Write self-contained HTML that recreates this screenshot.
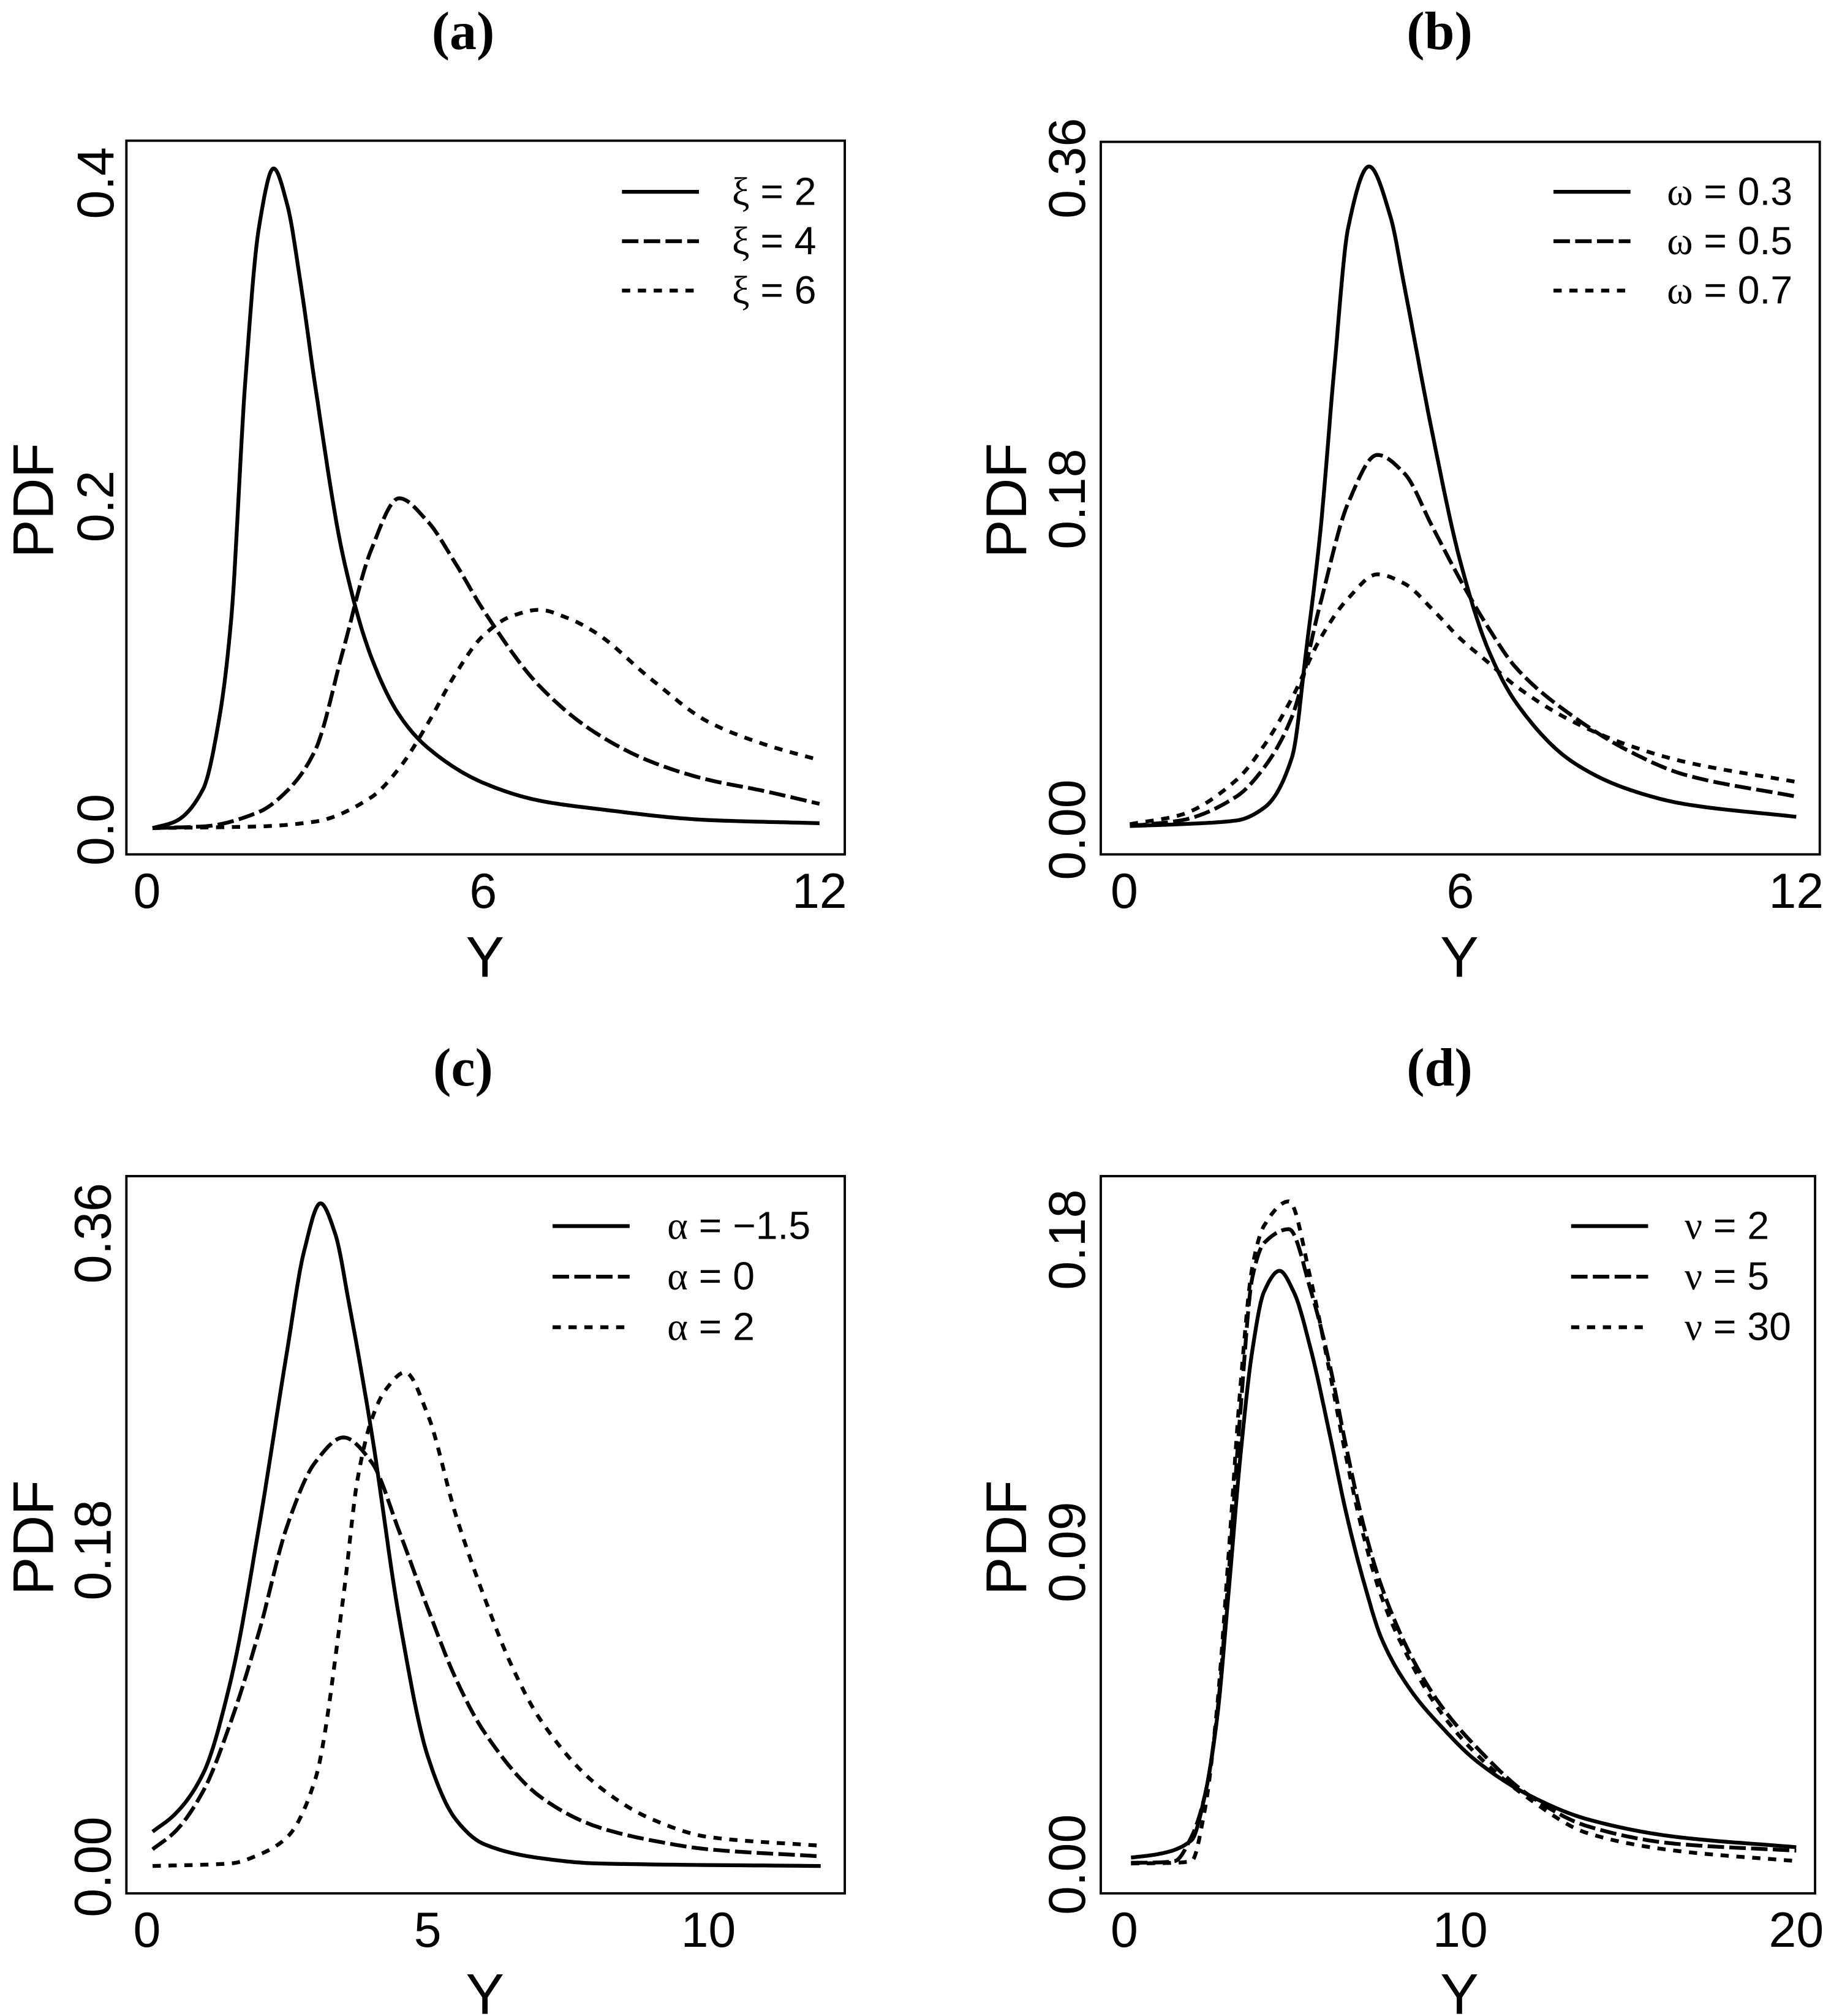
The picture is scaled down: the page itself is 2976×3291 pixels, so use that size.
<!DOCTYPE html>
<html><head><meta charset="utf-8">
<style>
html,body{margin:0;padding:0;background:#fff;}
svg{display:block;}
text{font-family:"Liberation Sans",sans-serif;fill:#000;}
.ttl{font-family:"Liberation Serif",serif;font-weight:bold;font-size:88px;}
.tick{font-size:88px;}
.xtick{font-size:84px;}
.axt{font-size:98px;}
.leg{font-size:67px;}
.grk{font-family:"Liberation Serif","DejaVu Serif",serif;}
</style></head>
<body>
<svg id="fig" width="2976" height="3291" viewBox="0 0 2976 3291" xmlns="http://www.w3.org/2000/svg">
<rect width="2976" height="3291" fill="#fff"/>
<text class="ttl" x="756" y="80" text-anchor="middle">(a)</text>
<text class="ttl" x="2350" y="80" text-anchor="middle">(b)</text>
<text class="ttl" x="756" y="1772" text-anchor="middle">(c)</text>
<text class="ttl" x="2350" y="1772" text-anchor="middle">(d)</text>
</svg>
<script>
// ---- Panel (a) data ----
const aX1=[0.1,0.5,1,1.3,1.5,1.75,2,2.26,2.5,2.75,3,3.5,4,4.5,5,6,7,8,10,12];
const aY1=[0.001,0.005,0.025,0.071,0.129,0.275,0.373,0.409,0.387,0.336,0.275,0.169,0.107,0.071,0.051,0.029,0.018,0.013,0.006,0.004];
const aX2=[0.1,1,2,2.5,3,3.5,4,4.5,5,5.5,6,7,8,9,10,11,12];
const aY2=[0.001,0.002,0.011,0.024,0.049,0.111,0.173,0.205,0.191,0.165,0.136,0.089,0.060,0.042,0.031,0.024,0.016];
const aX3=[0.1,2,3,4,4.5,5,5.5,6,6.5,7,7.5,8,9,10,11,12];
const aY3=[0.001,0.002,0.005,0.020,0.038,0.065,0.096,0.120,0.132,0.136,0.131,0.122,0.093,0.067,0.053,0.043];
const aTicksX=[0,6,12], aTicksXLab=["0","6","12"];
const aTicksY=[0,0.2,0.4], aTicksYLab=["0.0","0.2","0.4"];
// ---- Panel (b) data ----
const bX1=[0.1,1,2,2.5,3,3.25,3.5,3.75,4,4.37,4.75,5,5.5,6,6.5,7,8,9,10,12];
const bY1=[0.002,0.003,0.005,0.012,0.040,0.098,0.162,0.251,0.328,0.361,0.334,0.296,0.216,0.146,0.098,0.069,0.037,0.022,0.014,0.007];
const bX2=[0.1,1,2,2.5,3,3.5,4,4.52,5,5.5,6,6.5,7,8,9,10,12];
const bY2=[0.002,0.005,0.018,0.034,0.062,0.123,0.178,0.204,0.194,0.165,0.136,0.110,0.088,0.062,0.043,0.030,0.018];
const bX3=[0.1,1,2,2.5,3,3.5,4,4.52,5,5.5,6,6.5,7,8,9,10,12];
const bY3=[0.003,0.008,0.027,0.046,0.072,0.104,0.126,0.139,0.134,0.120,0.104,0.091,0.078,0.059,0.046,0.037,0.026];
const bTicksX=[0,6,12], bTicksXLab=["0","6","12"];
const bTicksY=[0,0.18,0.36], bTicksYLab=["0.00","0.18","0.36"];
// ---- Panel (c) data ----
const cX1=[0.1,0.5,1,1.5,2,2.5,2.8,3.09,3.35,3.6,4,4.5,5,5.5,6,7,8,12];
const cY1=[0.020,0.030,0.053,0.107,0.194,0.294,0.350,0.377,0.360,0.320,0.247,0.140,0.063,0.027,0.013,0.005,0.002,0.0005];
const cX2=[0.1,0.5,1,1.5,2,2.5,3,3.5,4,4.5,5,5.5,6,7,8,9,10,12];
const cY2=[0.010,0.020,0.043,0.083,0.134,0.194,0.230,0.244,0.230,0.190,0.147,0.107,0.077,0.040,0.023,0.015,0.010,0.006];
const cX3=[0.1,1.5,2,2.5,3,3.5,3.75,4,4.25,4.6,5,5.5,6,6.5,7,8,9,10,12];
const cY3=[0.0005,0.002,0.007,0.017,0.050,0.154,0.220,0.254,0.271,0.281,0.257,0.200,0.154,0.114,0.084,0.047,0.027,0.017,0.012];
const cTicksX=[0,5,10], cTicksXLab=["0","5","10"];
const cTicksY=[0,0.18,0.36], cTicksYLab=["0.00","0.18","0.36"];
// ---- Panel (d) data ----
const dX1=[0.2,1,2,2.4,2.76,3.11,3.46,3.81,4.16,4.62,5.04,5.56,6.09,6.61,7.14,7.66,8.54,9.41,10.46,12.04,13.8,16.4,20];
const dY1=[0.002,0.003,0.007,0.020,0.042,0.079,0.118,0.148,0.165,0.171,0.165,0.148,0.125,0.101,0.081,0.065,0.050,0.040,0.030,0.020,0.013,0.008,0.005];
const dX2=[0.2,1,1.5,2,2.4,2.76,3.11,3.46,3.81,4.16,4.9,5.56,6.09,6.61,7.14,7.66,8.54,9.41,10.46,12.04,13.8,16.4,20];
const dY2=[0.0005,0.0006,0.001,0.008,0.020,0.043,0.084,0.131,0.169,0.179,0.183,0.165,0.145,0.120,0.097,0.080,0.060,0.046,0.034,0.020,0.011,0.006,0.004];
const dX3=[0.2,1,1.5,2,2.4,2.76,3.11,3.46,3.81,4.16,4.9,5.56,6.09,6.61,7.14,7.66,8.54,9.41,10.46,12.04,13.8,16.4,20];
const dY3=[0.0003,0.0004,0.0005,0.001,0.016,0.045,0.090,0.138,0.172,0.184,0.191,0.168,0.143,0.117,0.094,0.077,0.058,0.044,0.032,0.019,0.009,0.004,0.001];
const dTicksX=[0,10,20], dTicksXLab=["0","10","20"];
const dTicksY=[0,0.09,0.18], dTicksYLab=["0.00","0.09","0.18"];

const NS="http://www.w3.org/2000/svg";
const svg=document.getElementById('fig');
function mk(tag,parent,attrs){const e=document.createElementNS(NS,tag);for(const k in attrs)e.setAttribute(k,attrs[k]);parent.appendChild(e);return e;}
// monotone cubic (Fritsch-Carlson) interpolation in data space
function smooth(xs,ys){
  const n=xs.length,d=[],m=[];
  for(let i=0;i<n-1;i++)d.push((ys[i+1]-ys[i])/(xs[i+1]-xs[i]));
  m.push(d[0]);
  for(let i=1;i<n-1;i++){
    if(d[i-1]*d[i]<=0)m.push(0);
    else{const w1=2*(xs[i+1]-xs[i])+(xs[i]-xs[i-1]),w2=(xs[i+1]-xs[i])+2*(xs[i]-xs[i-1]);
      m.push((w1+w2)/(w1/d[i-1]+w2/d[i]));}
  }
  m.push(d[n-2]);
  const out=[];
  for(let i=0;i<n-1;i++){
    const h=xs[i+1]-xs[i];
    for(let k=0;k<20;k++){
      const t=k/20,t2=t*t,t3=t2*t;
      const y=(2*t3-3*t2+1)*ys[i]+(t3-2*t2+t)*h*m[i]+(-2*t3+3*t2)*ys[i+1]+(t3-t2)*h*m[i+1];
      out.push([xs[i]+t*h,y]);
    }
  }
  out.push([xs[n-1],ys[n-1]]);
  return out;
}
const DASH=["none","28 9","14 13"];
function panel(cfg){
  const g=mk('g',svg,{transform:`translate(${cfg.ox},${cfg.oy}) scale(${1/1.042})`});
  
  
  const sx=v=>cfg.x0+cfg.kx*v, sy=v=>cfg.y0-cfg.ky*v;
  const box=mk('rect',g,{x:cfg.box[0],y:cfg.box[1],width:cfg.box[2]-cfg.box[0],height:cfg.box[3]-cfg.box[1],fill:'none',stroke:'#000','stroke-width':4});
  
  
  cfg.series.forEach((s,i)=>{
    const pts=smooth(s.x,s.y);
    const d="M"+pts.map(p=>sx(p[0]).toFixed(1)+","+sy(p[1]).toFixed(1)).join(" L");
    const p=mk('path',g,{d:d,fill:'none',stroke:'#000','stroke-width':6.5,'stroke-dasharray':DASH[i],'stroke-linejoin':'round'});
    
    
  });
  cfg.tx.forEach((v,i)=>{
    const t=mk('text',g,{x:sx(v),y:cfg.txBase,'text-anchor':'middle',class:'xtick'});
    t.textContent=cfg.txl[i];
    
    
  });
  cfg.ty.forEach((v,i)=>{
    const yy=sy(v);
    const t=mk('text',g,{x:cfg.tyBase,y:yy,'text-anchor':'middle',class:'tick',transform:`rotate(-90 ${cfg.tyBase} ${yy})`});
    t.textContent=cfg.tyl[i];
    
    
  });
  const xt=mk('text',g,{x:cfg.xtX,y:cfg.xtY,'text-anchor':'middle',class:'axt'});
  xt.textContent='Y';
  
  
  const yt=mk('text',g,{x:cfg.ytX,y:cfg.ytY,'text-anchor':'middle',class:'axt',transform:`rotate(-90 ${cfg.ytX} ${cfg.ytY})`});
  yt.textContent='PDF';
  
  
  cfg.leg.forEach((lab,i)=>{
    const ly=cfg.legY+i*cfg.legDy;
    const ln=mk('line',g,{x1:cfg.legX,x2:cfg.legX+131,y1:ly,y2:ly,stroke:'#000','stroke-width':6.5,'stroke-dasharray':DASH[i]});
    
    
    const t=mk('text',g,{x:cfg.legTX,y:ly+22,class:'leg'});
    const gs=mk('tspan',t,{class:'grk'});gs.textContent=cfg.sym;
    const rs=mk('tspan',t,{});rs.textContent=' = '+lab;
    
    
  });
}
panel({id:'a',ox:0,oy:150,box:[215,83,1437,1297],x0:250,kx:95.33,y0:1255,ky:2750,
  series:[{x:aX1,y:aY1},{x:aX2,y:aY2},{x:aX3,y:aY3}],
  tx:aTicksX,txl:aTicksXLab,ty:aTicksY,tyl:aTicksYLab,txBase:1388,tyBase:193,
  xtX:825,xtY:1505,ytX:90,ytY:695,legX:1058,legTX:1245,legY:170,legDy:84,sym:'ξ',leg:['2','4','6']});
panel({id:'b',ox:1488,oy:150,box:[322,85,1545,1297],x0:362,kx:95.25,y0:1255,ky:3125,
  series:[{x:bX1,y:bY1},{x:bX2,y:bY2},{x:bX3,y:bY3}],
  tx:bTicksX,txl:bTicksXLab,ty:bTicksY,tyl:bTicksYLab,txBase:1388,tyBase:295,
  xtX:932,xtY:1505,ytX:195,ytY:695,legX:1092,legTX:1285,legY:170,legDy:84,sym:'ω',leg:['0.3','0.5','0.7']});
panel({id:'c',ox:0,oy:1800,box:[215,125,1437,1345],x0:250,kx:95.5,y0:1300,ky:2994,
  series:[{x:cX1,y:cY1},{x:cX2,y:cY2},{x:cX3,y:cY3}],
  tx:cTicksX,txl:cTicksXLab,ty:cTicksY,tyl:cTicksYLab,txBase:1436,tyBase:188,
  xtX:825,xtY:1550,ytX:90,ytY:740,legX:940,legTX:1135,legY:210,legDy:86,sym:'α',leg:['\u22121.5','0','2']});
panel({id:'d',ox:1488,oy:1800,box:[322,125,1537,1345],x0:362,kx:57.15,y0:1296,ky:5906,
  series:[{x:dX1,y:dY1},{x:dX2,y:dY2},{x:dX3,y:dY3}],
  tx:dTicksX,txl:dTicksXLab,ty:dTicksY,tyl:dTicksYLab,txBase:1436,tyBase:295,
  xtX:932,xtY:1550,ytX:195,ytY:740,legX:1122,legTX:1315,legY:210,legDy:86,sym:'ν',leg:['2','5','30']});
</script>
</body></html>
